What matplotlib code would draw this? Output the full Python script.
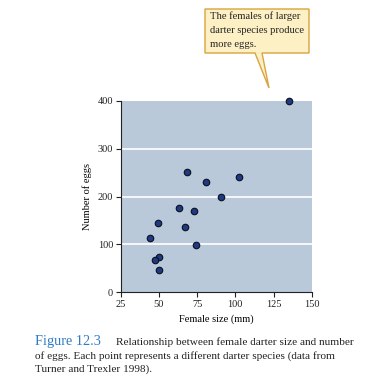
import matplotlib
matplotlib.use("Agg")
import matplotlib.pyplot as plt
from matplotlib.patches import Polygon

female_size = [135.4, 68.4, 80.6, 102.7, 90.9, 63.2, 73.2, 49.2, 66.9, 44.2, 74.5, 50.3, 47.3, 49.9]
num_eggs = [400, 252, 231, 242, 199, 176, 170, 144, 137, 113, 98, 74, 67, 47]
x_ticks = [25, 50, 75, 100, 125, 150]
y_ticks = [0, 100, 200, 300, 400]

W, H = 372, 389
fig = plt.figure(figsize=(W / 100, H / 100), dpi=100)
plt.rcParams['font.family'] = ['Liberation Serif', 'DejaVu Serif']

ax = fig.add_axes([120.7 / W, 1 - 292.3 / H, (311.7 - 120.7) / W, (292.3 - 101) / H])
ax.set_facecolor('#b9c9da')
ax.set_xlim(25, 150)
ax.set_ylim(0, 400)
for v in [100, 200, 300]:
    ax.axhline(v, color='white', lw=1.2, zorder=1)
ax.scatter(female_size, num_eggs, s=22, color='#1f3a80', edgecolor='#0a0f20', linewidth=0.8, zorder=3, clip_on=False)
ax.set_xticks(x_ticks)
ax.set_yticks(y_ticks)
ax.tick_params(labelsize=7.5, length=3.5, width=0.8, direction='out', pad=2, colors='#222222')
for s in ['top', 'right']:
    ax.spines[s].set_visible(False)
for s in ['left', 'bottom']:
    ax.spines[s].set_linewidth(0.8)
    ax.spines[s].set_color('#222222')
ax.set_xlabel('Female size (mm)', fontsize=7.5, labelpad=4)
ax.set_ylabel('Number of eggs', fontsize=7.5, labelpad=4)

# callout
pts = [(205, 9), (309, 9), (309, 53), (262, 53), (269, 88), (255, 53), (205, 53)]
poly = Polygon([(x / W, 1 - y / H) for x, y in pts], closed=True, transform=fig.transFigure,
               facecolor='#fdf0c4', edgecolor='#d9a441', lw=1.0)
fig.patches.append(poly)
for i, line in enumerate(['The females of larger', 'darter species produce', 'more eggs.']):
    fig.text(209.5 / W, 1 - (19 + 13.8 * i) / H, line,
             fontsize=7.6, va='baseline', ha='left', color='#222222')

# caption
fig.text(35 / W, 1 - 345 / H, 'Figure 12.3', fontsize=10.3, color='#2e7bc4', va='baseline')
fig.text(116 / W, 1 - 345 / H, 'Relationship between female darter size and number',
         fontsize=8.1, va='baseline', color='#222222')
fig.text(35 / W, 1 - 358.5 / H, 'of eggs. Each point represents a different darter species (data from',
         fontsize=8.1, va='baseline', color='#222222')
fig.text(35 / W, 1 - 372 / H, 'Turner and Trexler 1998).',
         fontsize=8.1, va='baseline', color='#222222')

fig.savefig('out.png', dpi=100)
